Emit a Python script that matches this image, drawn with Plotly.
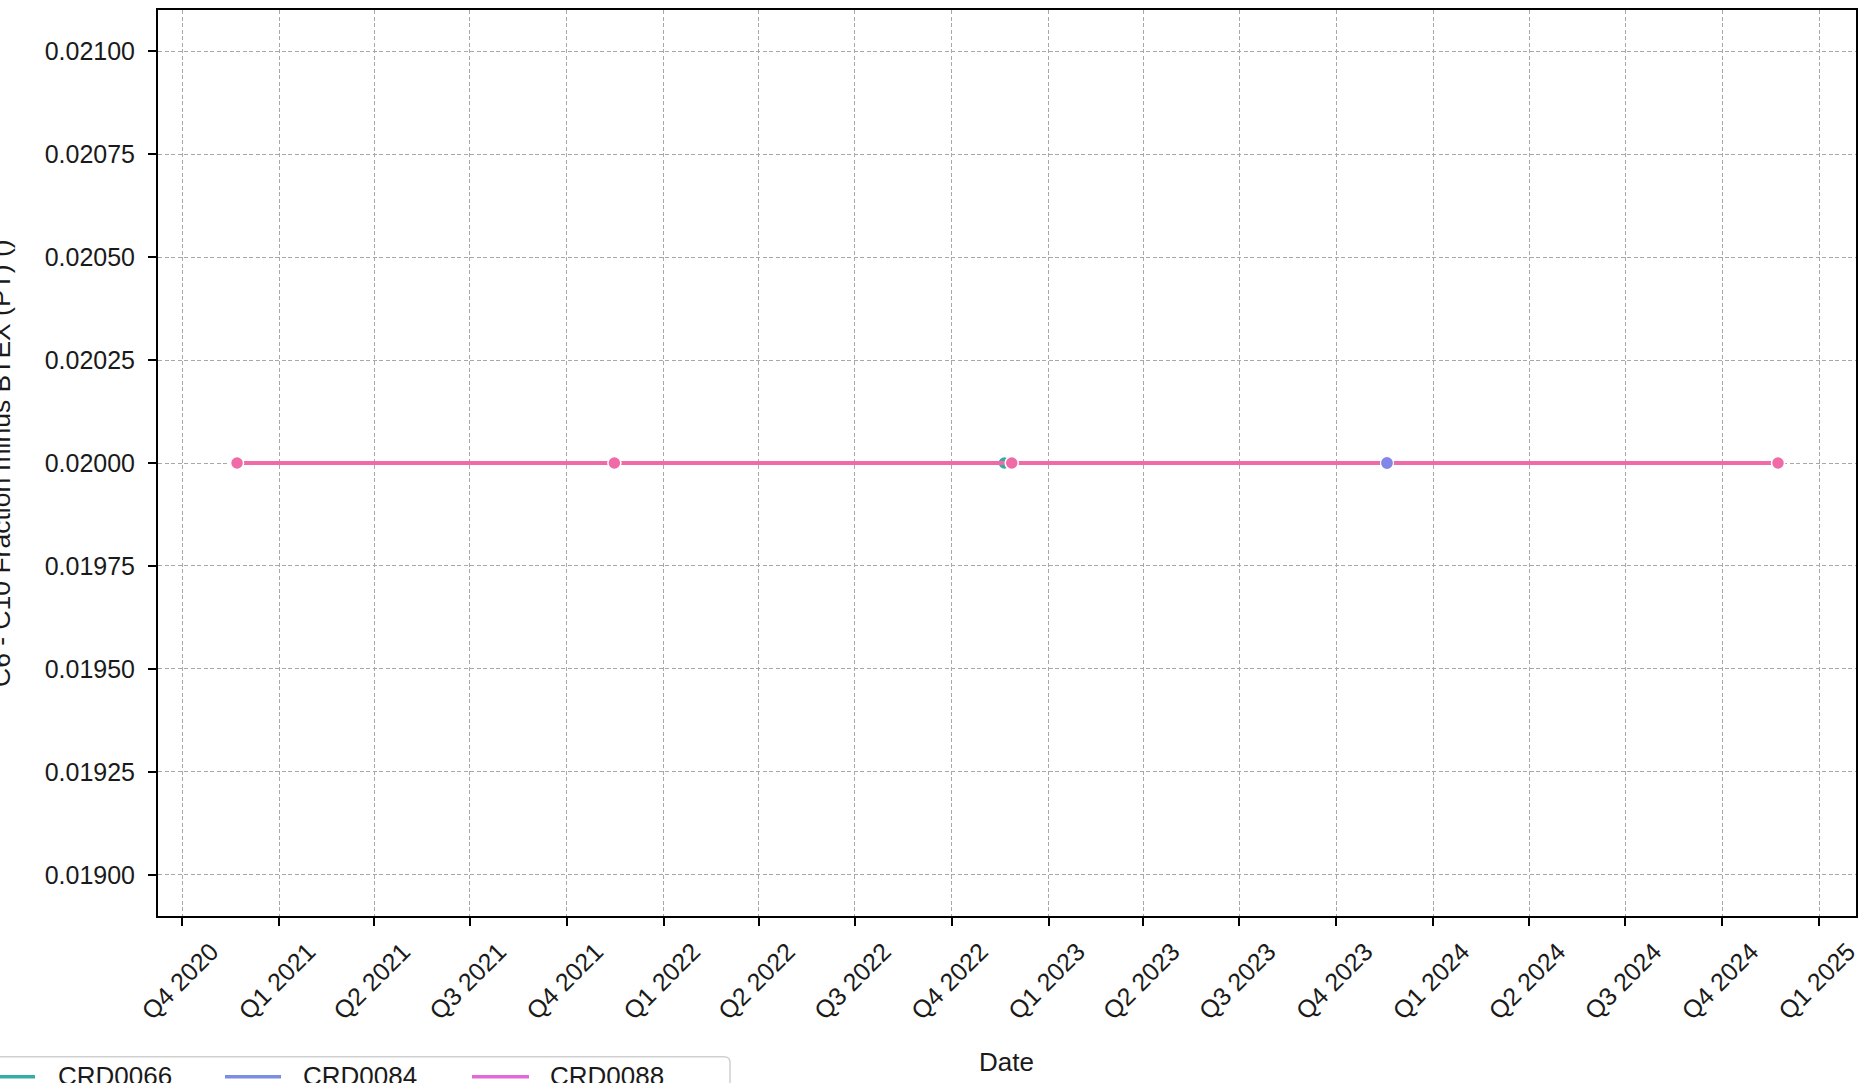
import plotly.graph_objects as go

# --- data -----------------------------------------------------------------
legend_names = ["CRD0066", "CRD0084", "CRD0088"]
legend_colors = ["#36ada4", "#7b8ee2", "#e468d6"]

crd0066_dates = ["2022-11-20"]
crd0066_vals = [0.02]

crd0084_dates = ["2023-11-18"]
crd0084_vals = [0.02]

# pink series: its legend entry sits below the cropped edge of the image
pink_dates = ["2020-11-22", "2021-11-15", "2022-11-27", "2024-11-23"]
pink_vals = [0.02, 0.02, 0.02, 0.02]
pink_color = "#f06aa8"

tick_dates = ["2020-10-01", "2021-01-01", "2021-04-01", "2021-07-01", "2021-10-01",
              "2022-01-01", "2022-04-01", "2022-07-01", "2022-10-01",
              "2023-01-01", "2023-04-01", "2023-07-01", "2023-10-01",
              "2024-01-01", "2024-04-01", "2024-07-01", "2024-10-01", "2025-01-01"]
tick_text = ["Q4 2020", "Q1 2021", "Q2 2021", "Q3 2021", "Q4 2021",
             "Q1 2022", "Q2 2022", "Q3 2022", "Q4 2022",
             "Q1 2023", "Q2 2023", "Q3 2023", "Q4 2023",
             "Q1 2024", "Q2 2024", "Q3 2024", "Q4 2024", "Q1 2025"]
y_ticks = [0.019 + 0.00025 * i for i in range(9)]

y_title = "C6 - C10 Fraction minus BTEX (PT) ()"
x_title = "Date"

# --- figure geometry (pixels) ----------------------------------------------
W, H = 1875, 1083
L, R, T, B = 158, 1856, 8, 916
pw, ph = R - L, B - T


def px(x):
    return (x - L) / pw


def py(y):
    return (B - y) / ph


FONT = "Arial, Liberation Sans, sans-serif"
TXT = "#1a1a1a"
fig = go.Figure()

fig.add_trace(go.Scatter(
    x=crd0066_dates, y=crd0066_vals, name=legend_names[0], mode="lines+markers",
    line=dict(color=legend_colors[0], width=4),
    marker=dict(size=13, color=legend_colors[0], line=dict(color="white", width=1.5)),
))
fig.add_trace(go.Scatter(
    x=pink_dates, y=pink_vals, name="", mode="lines+markers",
    line=dict(color=pink_color, width=4),
    marker=dict(size=13, color=pink_color, line=dict(color="white", width=1.5)),
))
fig.add_trace(go.Scatter(
    x=crd0084_dates, y=crd0084_vals, name=legend_names[1], mode="lines+markers",
    line=dict(color="#8287e6", width=4),
    marker=dict(size=13, color="#8287e6", line=dict(color="white", width=1.2)),
))

axis_common = dict(
    showline=True, linecolor="black", linewidth=2, mirror=True,
    ticks="outside", ticklen=8, tickwidth=1.5, tickcolor="black",
    showgrid=True, gridcolor="#a8a8a8", gridwidth=1, griddash="4px,2.5px",
    zeroline=False, tickfont=dict(family=FONT, size=25, color=TXT),
)

fig.update_xaxes(
    type="date", range=["2020-09-08", "2025-02-05"],
    tickmode="array", tickvals=tick_dates, ticktext=tick_text,
    tickangle=-45, ticklabelshift=29, ticklabelstandoff=1, **axis_common,
)
fig.update_yaxes(
    range=[0.0189, 0.0211], tickmode="array", tickvals=y_ticks,
    tickformat=".5f", ticklabelstandoff=8, **axis_common,
)

annotations = [
    dict(text=x_title, x=px(1006), y=py(1062), xref="paper", yref="paper",
         xanchor="center", yanchor="middle", showarrow=False,
         font=dict(family=FONT, size=26, color=TXT)),
    dict(text=y_title, x=px(1), y=py(462), xref="paper", yref="paper",
         xanchor="center", yanchor="middle", showarrow=False, textangle=-90,
         font=dict(family=FONT, size=26.5, color=TXT)),
]

# legend box (cropped at the left and bottom edges of the picture)
x0, x1, y0, y1, r = px(-30), px(730), py(1057), py(1120), 6
rx, ry = r / pw, r / ph
box = (f"M {x0},{y0} L {x1 - rx},{y0} Q {x1},{y0} {x1},{y0 - ry} "
       f"L {x1},{y1} L {x0},{y1} Z")
shapes = [dict(type="path", path=box, xref="paper", yref="paper",
               line=dict(color="#d0d0d0", width=1.5), fillcolor="white", layer="above")]

handle_x = [(-22, 35), (225, 281), (472, 529)]
text_x = [56, 301, 548]
for name, color, (hx0, hx1), tx in zip(legend_names, legend_colors, handle_x, text_x):
    shapes.append(dict(type="line", xref="paper", yref="paper",
                       x0=px(hx0), x1=px(hx1), y0=py(1077), y1=py(1077),
                       line=dict(color=color, width=3.5), layer="above"))
    annotations.append(dict(text=name, x=px(tx), y=py(1076), xref="paper", yref="paper",
                            xanchor="left", yanchor="middle", showarrow=False,
                            font=dict(family=FONT, size=26, color=TXT)))

fig.update_layout(
    width=W, height=H, autosize=False,
    margin=dict(l=L, r=W - R, t=T, b=H - B, pad=0),
    plot_bgcolor="white", paper_bgcolor="white",
    showlegend=False, annotations=annotations, shapes=shapes,
    font=dict(family=FONT, size=25, color=TXT),
)

fig.write_html("out.html", config={"displayModeBar": False},
               post_script="document.body.style.margin='0';")
